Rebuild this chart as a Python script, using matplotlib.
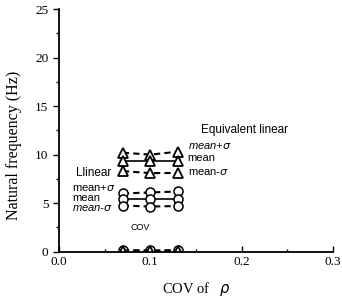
import matplotlib.pyplot as plt
from matplotlib.ticker import MultipleLocator

cov = [0.07, 0.10, 0.13]

# equivalent linear (triangles)
eq_plus = [10.2, 10.0, 10.3]
eq_mean = [9.3, 9.3, 9.3]
eq_minus = [8.3, 8.1, 8.1]
eq_cov = [0.10, 0.08, 0.10]

# linear (circles)
lin_plus = [6.0, 6.1, 6.2]
lin_mean = [5.4, 5.4, 5.4]
lin_minus = [4.75, 4.65, 4.7]
lin_cov = [0.15, 0.12, 0.15]


def main():
    fig = plt.figure(figsize=(3.42, 3.05), dpi=100)
    ax = fig.add_axes([0.172, 0.175, 0.802, 0.795])

    tri = dict(marker='^', ms=6.5, mfc='white', mec='black', mew=1.3, color='black')
    cir = dict(marker='o', ms=6.5, mfc='white', mec='black', mew=1.1, color='black')

    ax.plot(cov, eq_plus, ls=(0, (3, 2)), lw=1.5, **tri)
    ax.plot(cov, eq_mean, ls='-', lw=1.2, **tri)
    ax.plot(cov, eq_minus, ls=(0, (3, 2)), lw=1.5, **tri)
    ax.plot(cov, lin_plus, ls=(0, (3, 2)), lw=1.5, **cir)
    ax.plot(cov, lin_mean, ls='-', lw=1.2, **cir)
    ax.plot(cov, lin_minus, ls=(0, (3, 2)), lw=1.5, **cir)
    ax.plot(cov, lin_cov, ls=(0, (3, 2)), lw=1.5, **cir)
    ax.plot(cov, eq_cov, ls=(0, (3, 2)), lw=1.5, **tri)

    sans = 'Liberation Sans'
    ax.text(0.155, 12.5, 'Equivalent linear', family=sans, fontsize=8.5, va='center')
    ax.text(0.141, 10.9, r'mean+$\sigma$', family=sans, fontsize=8, style='italic', va='center')
    ax.text(0.141, 9.7, 'mean', family=sans, fontsize=8, va='center')
    ax.text(0.141, 8.25, r'mean-$\sigma$', family=sans, fontsize=8, va='center')
    ax.text(0.019, 8.15, 'Llinear', family=sans, fontsize=8.5, va='center')
    ax.text(0.0145, 6.6, r'mean+$\sigma$', family=sans, fontsize=8, va='center')
    ax.text(0.0145, 5.55, 'mean', family=sans, fontsize=8, va='center')
    ax.text(0.0145, 4.5, r'mean-$\sigma$', family=sans, fontsize=8, style='italic', va='center')
    ax.text(0.089, 2.45, 'COV', family=sans, fontsize=6.5, ha='center', va='center')

    ax.set_xlim(0, 0.3)
    ax.set_ylim(0, 25)
    ax.xaxis.set_major_locator(MultipleLocator(0.1))
    ax.xaxis.set_minor_locator(MultipleLocator(0.05))
    ax.yaxis.set_major_locator(MultipleLocator(5))
    ax.yaxis.set_minor_locator(MultipleLocator(2.5))
    ax.xaxis.set_major_formatter(plt.FormatStrFormatter('%.1f'))
    ax.tick_params(axis='x', which='both', direction='in')
    ax.tick_params(axis='y', which='both', direction='out')
    ax.tick_params(which='major', length=4, width=1)
    ax.tick_params(which='minor', length=2, width=1)
    for lab in ax.get_xticklabels() + ax.get_yticklabels():
        lab.set_family('Liberation Serif')
        lab.set_fontsize(9.5)

    ax.spines['top'].set_visible(False)
    ax.spines['right'].set_visible(False)
    ax.spines['left'].set_linewidth(1.3)
    ax.spines['bottom'].set_linewidth(1.3)

    ax.set_ylabel('Natural frequency (Hz)', family='Liberation Serif', fontsize=11.5)
    ax.yaxis.set_label_coords(-0.135, 0.44)
    ax.set_xlabel(r'COV of   $\rho$', family='Liberation Serif', fontsize=10.5, labelpad=8)

    fig.savefig('out.png', dpi=100)


if __name__ == '__main__':
    main()
